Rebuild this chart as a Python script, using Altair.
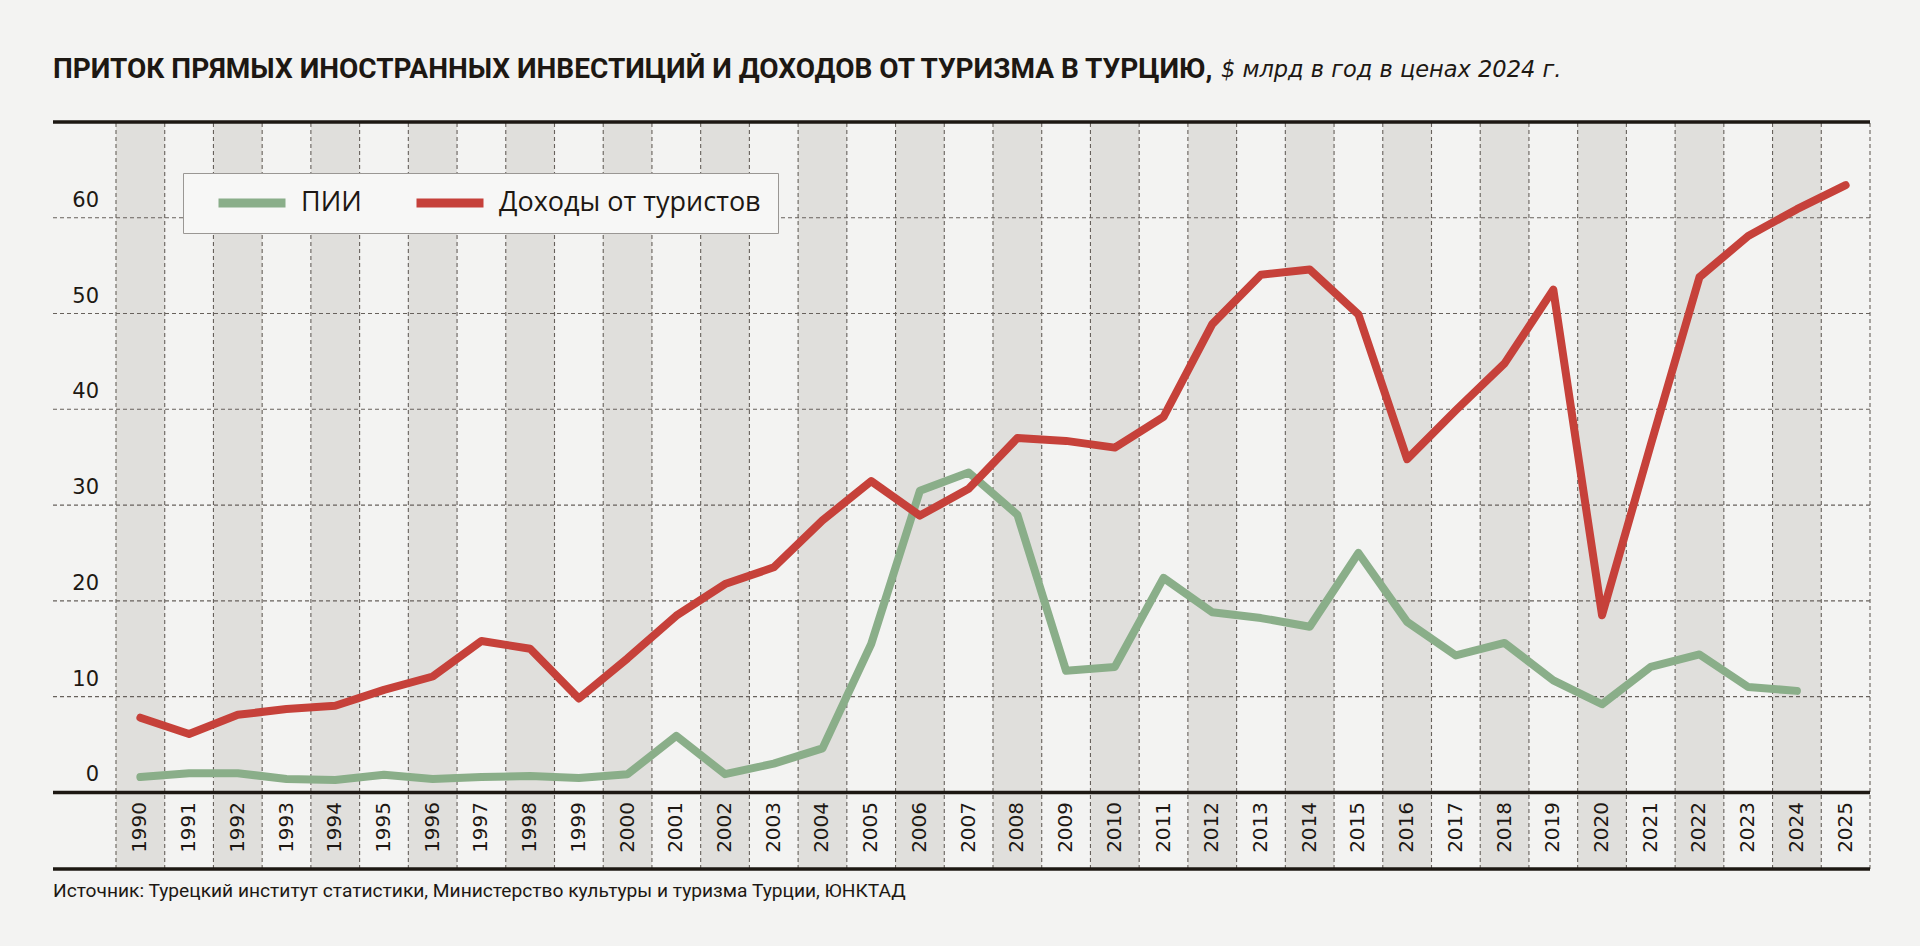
import altair as alt
import pandas as pd

# ---------------- data ----------------
years = list(range(1990, 2026))
fdi = [1.6, 2.0, 2.0, 1.4, 1.3, 1.85, 1.4, 1.6, 1.7, 1.5,
       1.9, 5.9, 1.9, 3.0, 4.6, 15.5, 31.5, 33.4, 29.0, 12.7,
       13.1, 22.4, 18.8, 18.2, 17.3, 25.0, 17.8, 14.3, 15.6, 11.7,
       9.2, 13.1, 14.4, 11.0, 10.6, None]
tourism = [7.8, 6.1, 8.1, 8.7, 9.05, 10.7, 12.1, 15.8, 15.0, 9.8,
           14.0, 18.45, 21.75, 23.5, 28.4, 32.5, 28.9, 31.7, 37.0, 36.7,
           36.0, 39.2, 48.9, 54.05, 54.6, 49.9, 34.8, 39.9, 44.8, 52.5,
           18.5, 36.3, 53.8, 58.1, 60.9, 63.4]
series_names = ["ПИИ", "Доходы от туристов"]
series_colors = ["#8aae89", "#c6413a"]
y_ticks = [0, 10, 20, 30, 40, 50, 60]
grid_vals = [10, 20, 30, 40, 50, 60]
frame_vals = [-8, 0, 70]

title_bold = "ПРИТОК ПРЯМЫХ ИНОСТРАННЫХ ИНВЕСТИЦИЙ И ДОХОДОВ ОТ ТУРИЗМА В ТУРЦИЮ,"
title_rest = "$ млрд в год в ценах 2024 г."
source = "Источник: Турецкий институт статистики, Министерство культуры и туризма Турции, ЮНКТАД"

# ---------------- tables ----------------
rows = []
for i, yr in enumerate(years):
    if fdi[i] is not None:
        rows.append({"year": yr, "series": series_names[0], "value": fdi[i]})
    if tourism[i] is not None:
        rows.append({"year": yr, "series": series_names[1], "value": tourism[i]})
lines_df = pd.DataFrame(rows)

years_df = pd.DataFrame({"year": years, "label": [str(y) for y in years]})
bands_df = years_df[years_df["year"] % 2 == 0]
bounds_df = pd.DataFrame({"b": [y - 0.5 for y in years] + [years[-1] + 0.5]})
grid_df = pd.DataFrame({"g": grid_vals})
frame_df = pd.DataFrame({"f": frame_vals})
ticks_df = pd.DataFrame({"v": y_ticks, "label": [str(v) for v in y_ticks]})

X0, X1 = 1988.207, 2025.5
xs = alt.Scale(domain=[X0, X1], nice=False, zero=False)
ys = alt.Scale(domain=[-8, 70], nice=False, zero=False)
INK = "#1d1813"

bands = alt.Chart(bands_df).mark_rect(color="#e0dfdc").transform_calculate(
    x1="datum.year - 0.5", x2="datum.year + 0.5"
).encode(
    x=alt.X("x1:Q", scale=xs, axis=None),
    x2="x2:Q",
    y=alt.Y(datum=-8, scale=ys, axis=None),
    y2=alt.Y2(datum=70),
)

vlines = alt.Chart(bounds_df).mark_rule(color="#67615c", strokeWidth=1.1, strokeDash=[4, 3]).encode(
    x=alt.X("b:Q", scale=xs, axis=None),
    y=alt.Y(datum=-8, scale=ys, axis=None),
    y2=alt.Y2(datum=70),
)

hlines = alt.Chart(grid_df).mark_rule(color="#67615c", strokeWidth=1.1, strokeDash=[4, 3]).encode(
    y=alt.Y("g:Q", scale=ys, axis=None),
)

frame = alt.Chart(frame_df).mark_rule(color=INK, strokeWidth=3.5).encode(
    y=alt.Y("f:Q", scale=ys, axis=None),
)

y_labels = alt.Chart(ticks_df).mark_text(
    align="right", baseline="middle", dy=-17, font="DejaVu Sans", fontSize=21, color=INK
).encode(
    x=alt.value(46),
    y=alt.Y("v:Q", scale=ys, axis=None),
    text="label:N",
)

lines = alt.Chart(lines_df).mark_line(strokeWidth=8, strokeCap="round", strokeJoin="round").encode(
    x=alt.X("year:Q", scale=xs, axis=None),
    y=alt.Y("value:Q", scale=ys, axis=None),
    color=alt.Color("series:N", scale=alt.Scale(domain=series_names, range=series_colors),
                    legend=alt.Legend(
                        orient="none", legendX=130, legendY=51, direction="horizontal",
                        title=None, symbolType="stroke", symbolStrokeWidth=9, symbolSize=4489,
                        clipHeight=26, symbolOffset=14, labelOffset=11, columnPadding=36,
                        labelLimit=500,
                        labelFont="Open Sans", labelFontSize=27, labelColor=INK,
                        fillColor="#f7f7f6", strokeColor="#9a9794", padding=17)),
    order=alt.Order("year:Q"),
)

year_labels = alt.Chart(years_df).mark_text(
    angle=270, align="right", baseline="middle", font="DejaVu Sans", fontSize=20, color=INK
).encode(
    x=alt.X("year:Q", scale=xs, axis=None),
    y=alt.Y(datum=-1.0, scale=ys, axis=None),
    text="label:N",
)

t1 = alt.Chart(pd.DataFrame({"t": [title_bold]})).mark_text(
    align="left", baseline="middle", font="Roboto", fontWeight="bold", fontSize=28, color=INK
).encode(x=alt.value(0), y=alt.value(-52), text="t:N")

t2 = alt.Chart(pd.DataFrame({"t": [title_rest]})).mark_text(
    align="left", baseline="middle", font="DejaVu Sans", fontStyle="italic", fontSize=22.5, color=INK
).encode(x=alt.value(1168), y=alt.value(-52), text="t:N")

src = alt.Chart(pd.DataFrame({"t": [source]})).mark_text(
    align="left", baseline="middle", font="Roboto", fontSize=19.2, color=INK
).encode(x=alt.value(0), y=alt.value(769), text="t:N")

chart = alt.layer(bands, vlines, hlines, lines, frame, y_labels, year_labels, t1, t2, src).properties(
    width=1817, height=747,
    padding={"left": 53, "top": 122, "right": 50, "bottom": 77},
    autosize=alt.AutoSizeParams(type="none"),
).configure(background="#f3f3f2").configure_view(strokeWidth=0)

chart.save("out.html", embed_options={"renderer": "svg", "actions": False})
